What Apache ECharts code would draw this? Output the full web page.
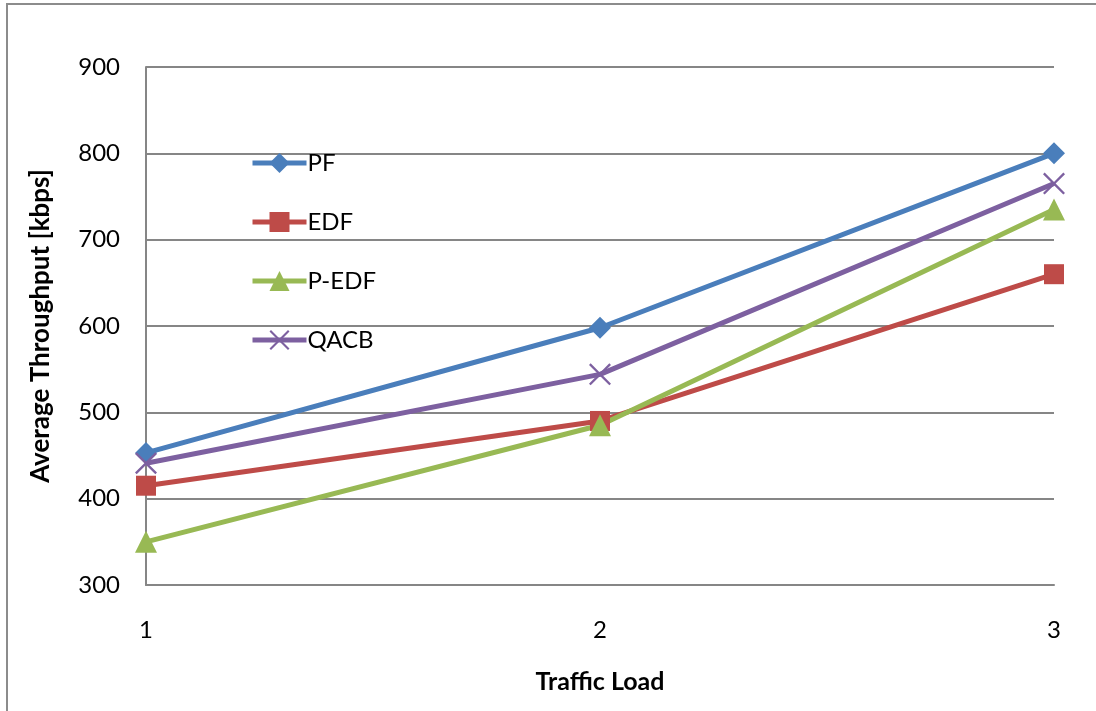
<!DOCTYPE html>
<html>
<head>
<meta charset="utf-8">
<script src="https://cdn.jsdelivr.net/npm/echarts@6/dist/echarts.min.js"></script>
<style>
  html, body { margin: 0; padding: 0; background: #ffffff; }
  #frame {
    position: absolute; left: 6px; top: 3px; width: 1200px; height: 800px;
    border: 2px solid #8c8c8c; box-sizing: border-box;
  }
  #chart { position: absolute; left: 0; top: 0; width: 1096px; height: 711px; }
</style>
</head>
<body>
<div id="frame"></div>
<div id="chart"></div>
<script>
// Traffic load levels on the x axis
const loads = ['1', '2', '3'];
// Average throughput (kbps) per scheduler
const pf    = [453, 598, 800];
const edf   = [415, 490, 660];
const pEdf  = [350, 485, 735];
const qacb  = [441, 544, 765];
const yTicks = [300, 400, 500, 600, 700, 800, 900];

const FONT = 'Lato, "Open Sans", sans-serif';
// an "x" marker built as a filled outline
const crossPath = 'path://M0,1.5L1.5,0L10,8.5L18.5,0L20,1.5L11.5,10L20,18.5L18.5,20L10,11.5L1.5,20L0,18.5L8.5,10Z';

function lineSeries(name, data, color, symbol, size) {
  return {
    name: name,
    type: 'line',
    data: data,
    symbol: symbol,
    symbolSize: size,
    showAllSymbol: true,
    lineStyle: { color: color, width: 5 },
    itemStyle: { color: color },
    emphasis: { disabled: true },
    z: 3
  };
}

const names = ['PF', 'EDF', 'P-EDF', 'QACB'];
const colors = ['#4A7EBB', '#BE4B48', '#98B954', '#7D60A0'];

const chart = echarts.init(document.getElementById('chart'), null, { renderer: 'canvas' });
chart.setOption({
  animation: false,
  backgroundColor: 'transparent',
  textStyle: { fontFamily: FONT },
  grid: { left: 146, right: 42, top: 67, bottom: 126, containLabel: false },
  legend: {
    orient: 'vertical',
    left: 250,
    top: 151,
    padding: 0,
    itemWidth: 54,
    itemHeight: 25,
    itemGap: 35,
    textStyle: { fontSize: 24, color: '#000', fontFamily: FONT, padding: [0, 0, 0, -4] },
    data: names.map((n, i) => ({ name: n, lineStyle: { width: 5, color: colors[i] } }))
  },
  xAxis: {
    type: 'category',
    data: loads,
    boundaryGap: false,
    name: 'Traffic Load',
    nameLocation: 'middle',
    nameGap: 84,
    nameTextStyle: { fontSize: 25, fontWeight: 'bold', color: '#000', fontFamily: FONT },
    axisLine: { lineStyle: { color: '#868686', width: 2 } },
    axisTick: { show: false },
    axisLabel: { fontSize: 24, color: '#000', margin: 33, fontFamily: FONT },
    splitLine: { show: false }
  },
  yAxis: {
    type: 'value',
    min: yTicks[0],
    max: yTicks[yTicks.length - 1],
    interval: 100,
    name: 'Average Throughput [kbps]',
    nameLocation: 'middle',
    nameRotate: 90,
    nameGap: 92,
    nameTextStyle: { fontSize: 26, fontWeight: 'bold', color: '#000', fontFamily: FONT },
    axisLine: { show: true, lineStyle: { color: '#868686', width: 2 } },
    axisTick: { show: false },
    axisLabel: { fontSize: 24, color: '#000', margin: 26, fontFamily: FONT },
    splitLine: { show: true, lineStyle: { color: '#868686', width: 2 } }
  },
  series: [
    lineSeries(names[0], pf, colors[0], 'diamond', 22),
    lineSeries(names[1], edf, colors[1], 'rect', 20),
    lineSeries(names[2], pEdf, colors[2], 'triangle', 22),
    lineSeries(names[3], qacb, colors[3], crossPath, 22)
  ]
});
</script>
</body>
</html>
